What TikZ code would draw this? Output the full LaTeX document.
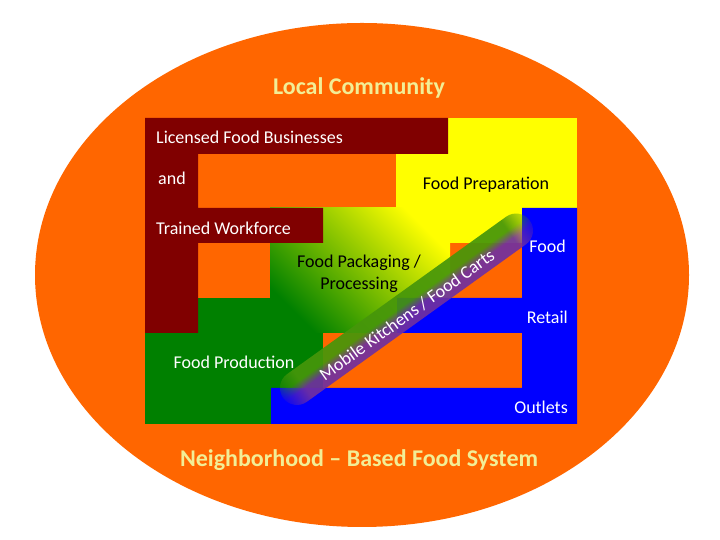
\documentclass[tikz,border=0pt]{standalone}
\usepackage{fontspec}
\setmainfont{Carlito}
\usetikzlibrary{fadings}
\definecolor{bgorange}{RGB}{255,102,0}
\definecolor{maroonF}{RGB}{128,0,0}
\definecolor{yel}{RGB}{255,255,0}
\definecolor{grn}{RGB}{0,128,0}
\definecolor{blu}{RGB}{0,0,255}
\definecolor{titlecol}{RGB}{242,238,150}
\definecolor{bandgreen}{RGB}{70,150,10}
\definecolor{bandpurple}{RGB}{112,48,160}
\definecolor{pkmid}{RGB}{145,200,0}
\pgfdeclareverticalshading{bandshade}{100bp}{color(0bp)=(bandpurple); color(25bp)=(bandpurple); color(44bp)=(bandpurple); color(58bp)=(bandgreen); color(75bp)=(bandgreen); color(100bp)=(bandgreen)}
\pgfdeclarehorizontalshading{bandfadeshade}{100bp}{color(0bp)=(pgftransparent!100); color(25bp)=(pgftransparent!85); color(29bp)=(pgftransparent!0); color(71bp)=(pgftransparent!0); color(75bp)=(pgftransparent!75); color(100bp)=(pgftransparent!100)}
\pgfdeclarefading{bandfade}{\pgfuseshading{bandfadeshade}}
\begin{document}
\begin{tikzpicture}[x=1pt,y=1pt,
  lbl/.style={text=white, inner sep=0pt, font=\fontsize{18}{21}\selectfont},
  dlbl/.style={text=black, inner sep=0pt, font=\fontsize{18}{21}\selectfont},
  ttl/.style={text=titlecol, inner sep=0pt, font=\fontsize{24}{28}\selectfont\bfseries}]
\useasboundingbox (0,0) rectangle (720,540);
\fill[white] (0,0) rectangle (720,540);
% community ellipse
\fill[bgorange] (362,265) ellipse [x radius=327pt, y radius=252pt];
% yellow food preparation
\fill[yel] (396,297) rectangle (577,422);
% green food production
\fill[grn] (145,116) rectangle (323,242);
% packaging gradient
\shade[top color=yel, middle color=pkmid, bottom color=grn, shading angle=-45] (270,207) rectangle (450,332);
% maroon F
\fill[maroonF] (145,422) -- (448,422) -- (448,386) -- (198,386) -- (198,332) -- (323,332) -- (323,297) -- (198,297) -- (198,207) -- (145,207) -- cycle;
% blue E
\fill[blu] (522,332) -- (577,332) -- (577,116) -- (271,116) -- (271,152) -- (522,152) -- (522,207) -- (397,207) -- (397,242) -- (522,242) -- cycle;
% mobile kitchens band
\begin{scope}[transform canvas={shift={(406.5pt,230.75pt)}, rotate=35.7}]
\shade[shading=bandshade, fill opacity=0.92, path fading=bandfade, fit fading=true, rounded corners=17pt] (-151.9pt,-17pt) rectangle (151.9pt,17pt);
\end{scope}
% labels
\node[ttl, anchor=base] (lc) at (359,445) {Local Community};
\node[ttl, anchor=base] (nb) at (359,73) {Neighborhood – Based Food System};
\node[lbl, anchor=base west] (lic) at (156,396) {Licensed Food Businesses};
\node[lbl, anchor=base west] (and) at (158,355) {and};
\node[lbl, anchor=base west] (tw) at (156,305) {Trained Workforce};
\node[dlbl, anchor=base] (prep) at (486,350) {Food Preparation};
\node[dlbl, anchor=base] (pack1) at (359,272) {Food Packaging /};
\node[dlbl, anchor=base] (pack2) at (359,250) {Processing};
\node[lbl, anchor=base] (prod) at (234,171) {Food Production};
\node[lbl, anchor=base east] (food) at (566,287) {Food};
\node[lbl, anchor=base east] (retail) at (568,216) {Retail};
\node[lbl, anchor=base east] (outlets) at (568,126) {Outlets};
\node[lbl, rotate=35.7] (band) at (407,225) {Mobile Kitchens / Food Carts};
\end{tikzpicture}
\end{document}
